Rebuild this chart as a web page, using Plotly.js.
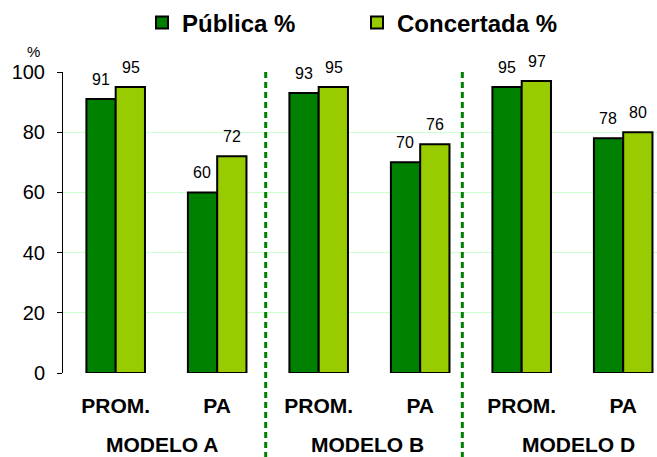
<!DOCTYPE html>
<html>
<head>
<meta charset="utf-8">
<script src="https://cdn.plot.ly/plotly-3.0.1.min.js"></script>
<style>
html,body{margin:0;padding:0;background:#fff;}
#chart{width:657px;height:457px;}
</style>
</head>
<body>
<div id="chart"></div>
<script>
// ---- data ----
const models = ['MODELO A', 'MODELO B', 'MODELO D'];
const subCategories = ['PROM.', 'PA', 'PROM.', 'PA', 'PROM.', 'PA'];
const seriesNames = ['Pública %', 'Concertada %'];
const publica = [91, 60, 93, 70, 95, 78];
const concertada = [95, 72, 95, 76, 97, 80];
const yTicks = [0, 20, 40, 60, 80, 100];

// ---- styling ----
const FONT = 'Liberation Sans, Arial, sans-serif';
const colors = ['#008000', '#99CC00'];
const xIdx = subCategories.map((_, i) => i);
const seriesValues = [publica, concertada];

const traces = seriesValues.map((vals, s) => ({
  type: 'bar',
  name: seriesNames[s],
  x: xIdx,
  y: vals,
  marker: {color: colors[s], line: {color: '#000000', width: 2}},
  hoverinfo: 'y'
}));

const annotations = [];
seriesValues.forEach((vals, s) => {
  vals.forEach((v, i) => {
    annotations.push({
      x: xIdx[i], y: v, xref: 'x', yref: 'y',
      text: String(v), showarrow: false,
      xshift: s === 0 ? -15 : 15, yshift: 9, yanchor: 'bottom',
      font: {family: FONT, size: 16, color: '#000'}
    });
  });
});
// group labels
const groupX = [0.453, 2.48, 4.56];
models.forEach((m, g) => {
  annotations.push({
    x: groupX[g], xref: 'x', y: -0.2375, yref: 'paper', yanchor: 'middle',
    text: '<b>' + m + '</b>', showarrow: false,
    font: {family: FONT, size: 21, color: '#000'}
  });
});
// y-axis unit
annotations.push({
  x: -0.049, xref: 'paper', xanchor: 'center', y: 1.068, yref: 'paper', yanchor: 'middle',
  text: '%', showarrow: false,
  font: {family: FONT, size: 15, color: '#000'}
});

const separators = [1.478, 3.415];
const shapes = separators.map(xs => ({
  type: 'line', xref: 'x', yref: 'paper',
  x0: xs, x1: xs, y0: 1, y1: -0.3,
  line: {color: '#008000', width: 3, dash: '6px,4px'}
}));

const layout = {
  width: 657, height: 457,
  margin: {l: 63, r: 0, t: 72, b: 84},
  paper_bgcolor: '#fff', plot_bgcolor: '#fff',
  font: {family: FONT, color: '#000'},
  barmode: 'group',
  bargap: 0.423,
  bargroupgap: 0,
  showlegend: true,
  legend: {
    orientation: 'h', x: 0.133, xanchor: 'left', y: 1.163, yanchor: 'middle',
    font: {family: FONT, size: 24, color: '#000', weight: 'bold'},
    entrywidth: 170, entrywidthmode: 'pixels',
    bgcolor: 'rgba(0,0,0,0)'
  },
  xaxis: {
    range: [-0.519, 5.333], fixedrange: true,
    tickvals: xIdx, ticktext: subCategories.map(t => '<b>' + t + '</b>'),
    tickfont: {family: FONT, size: 21, color: '#000'},
    showgrid: false, zeroline: false, showline: false, ticks: '',
    ticklabelstandoff: 18, automargin: false
  },
  yaxis: {
    range: [0, 100], fixedrange: true,
    tickvals: yTicks,
    tickfont: {family: FONT, size: 20, color: '#000'},
    showgrid: true, gridcolor: '#ccffcc', gridwidth: 1,
    zeroline: false,
    showline: true, linecolor: '#000', linewidth: 1,
    ticks: 'outside', ticklen: 5, tickcolor: '#000', tickwidth: 1,
    ticklabelstandoff: 8, automargin: false
  },
  annotations: annotations,
  shapes: shapes
};

Plotly.newPlot('chart', traces, layout, {displayModeBar: false, staticPlot: true});
</script>
</body>
</html>
